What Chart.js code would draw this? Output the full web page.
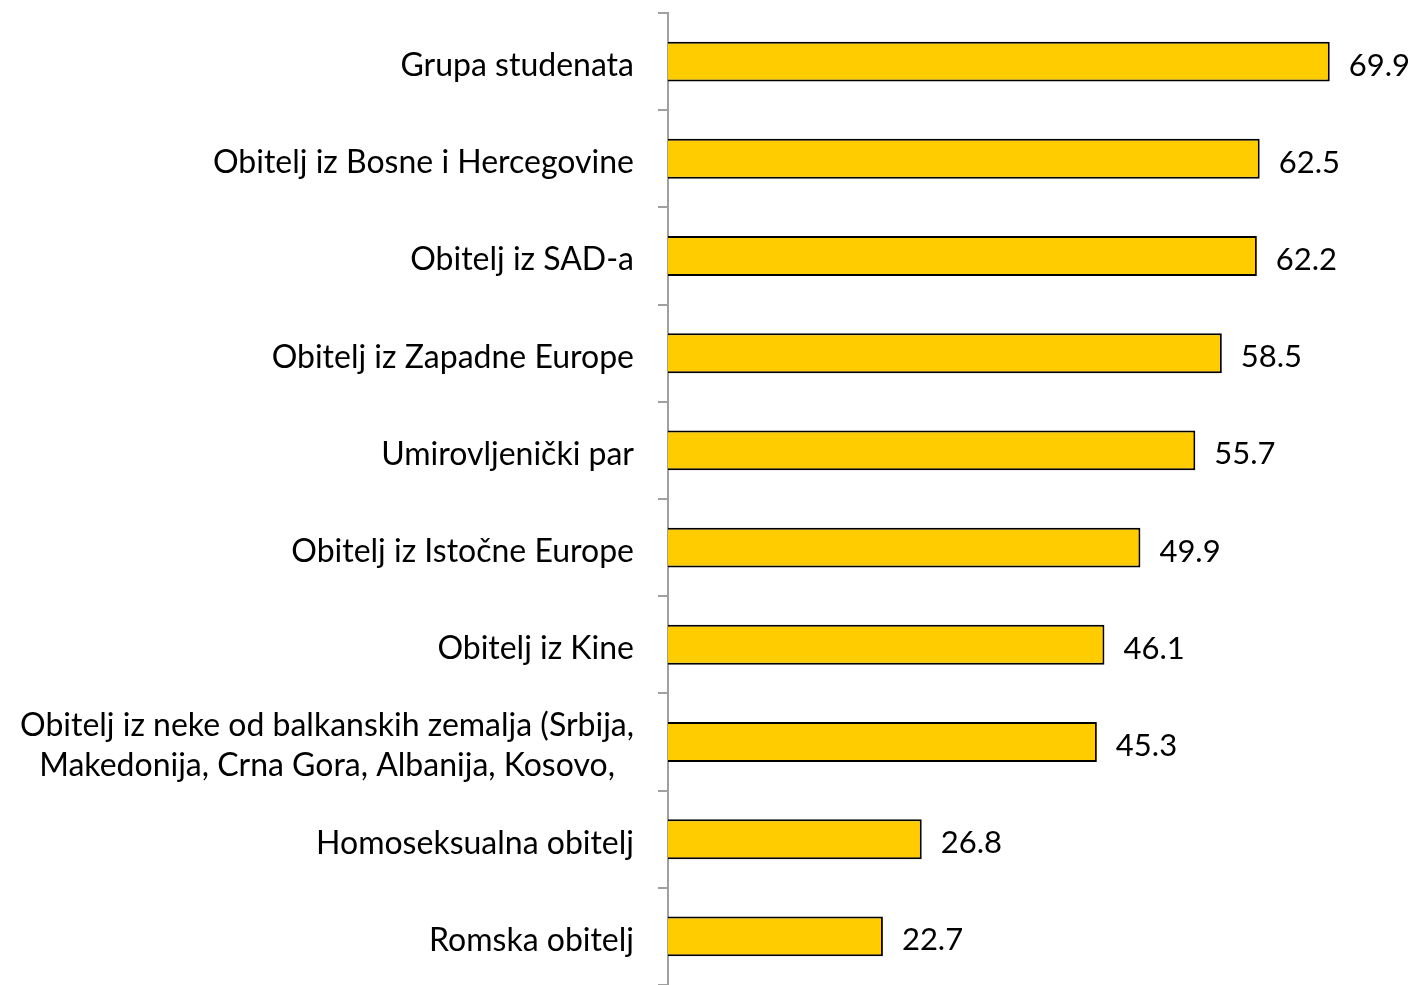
<!DOCTYPE html>
<html>
<head>
<meta charset="utf-8">
<script src="https://cdn.jsdelivr.net/npm/chart.js@4/dist/chart.umd.min.js"></script>
<style>
  html, body { margin: 0; padding: 0; background: #fff; }
  #wrap { width: 1414px; height: 985px; }
</style>
</head>
<body>
<div id="wrap"><canvas id="chart"></canvas></div>
<script>
const categories = [
  "Grupa studenata",
  "Obitelj iz Bosne i Hercegovine",
  "Obitelj iz SAD-a",
  "Obitelj iz Zapadne Europe",
  "Umirovljenički par",
  "Obitelj iz Istočne Europe",
  "Obitelj iz Kine",
  ["Obitelj iz neke od balkanskih zemalja (Srbija,", "Makedonija, Crna Gora, Albanija, Kosovo,"],
  "Homoseksualna obitelj",
  "Romska obitelj"
];
const values = [69.9, 62.5, 62.2, 58.5, 55.7, 49.9, 46.1, 45.3, 26.8, 22.7];

const FAMILY = "Lato, 'Noto Sans', sans-serif";

// value labels to the right of each bar
const valueLabels = {
  id: 'valueLabels',
  afterDatasetsDraw(chart) {
    const { ctx } = chart;
    const meta = chart.getDatasetMeta(0);
    ctx.save();
    ctx.font = '31px ' + FAMILY;
    ctx.fillStyle = '#000';
    ctx.textAlign = 'left';
    ctx.textBaseline = 'middle';
    meta.data.forEach((bar, i) => {
      ctx.fillText(values[i].toFixed(1), bar.x + 19, bar.y + 4);
    });
    ctx.restore();
  }
};

// category labels: lines centred on each other, block right-aligned
const catLabels = {
  id: 'catLabels',
  afterDraw(chart) {
    const { ctx } = chart;
    const y = chart.scales.y;
    const right = y.right - 34;
    ctx.save();
    ctx.font = '32px ' + FAMILY;
    ctx.fillStyle = '#000';
    ctx.textAlign = 'center';
    ctx.textBaseline = 'middle';
    const lh = 40;
    categories.forEach((c, i) => {
      const lines = Array.isArray(c) ? c : [c];
      const w = Math.max(...lines.map(l => ctx.measureText(l).width));
      const cx = right - w / 2;
      const yc = y.getPixelForValue(i);
      lines.forEach((l, k) => {
        ctx.fillText(l, cx, yc + (k - (lines.length - 1) / 2) * lh + 4);
      });
    });
    ctx.restore();
  }
};

const chart = new Chart(document.getElementById('chart'), {
  type: 'bar',
  data: {
    labels: categories,
    datasets: [{
      data: values,
      backgroundColor: '#FFCC00',
      borderColor: '#000',
      borderWidth: 2,
      borderSkipped: 'left',
      barPercentage: 0.41,
      categoryPercentage: 1
    }]
  },
  options: {
    indexAxis: 'y',
    responsive: true,
    maintainAspectRatio: false,
    animation: false,
    layout: { padding: { top: 13, right: 0, bottom: 0, left: 0 } },
    plugins: { legend: { display: false }, tooltip: { enabled: false } },
    scales: {
      x: { display: false, min: 0, max: 78.8 },
      y: {
        afterFit(scale) { scale.width = 668; },
        border: { display: true, color: '#a0a0a0', width: 2 },
        grid: { offset: true, drawOnChartArea: false, drawTicks: true, tickLength: 10, color: '#a0a0a0', lineWidth: 2 },
        ticks: { display: false }
      }
    }
  },
  plugins: [valueLabels, catLabels]
});
window.chart = chart;
</script>
</body>
</html>
